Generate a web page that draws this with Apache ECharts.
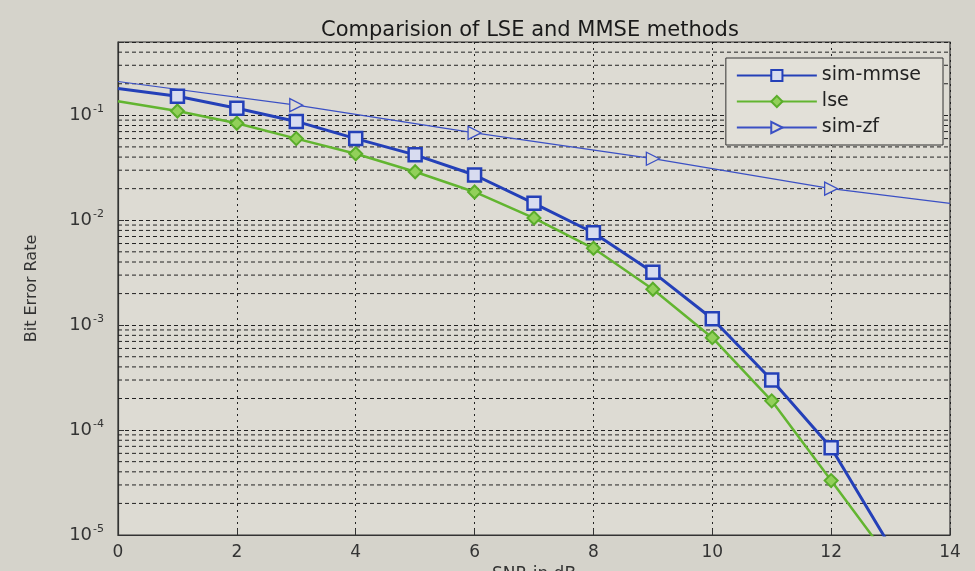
<!DOCTYPE html>
<html>
<head>
<meta charset="utf-8">
<title>Comparision of LSE and MMSE methods</title>
<script src="https://cdn.jsdelivr.net/npm/echarts@6/dist/echarts.min.js"></script>
<style>
  html, body { margin: 0; padding: 0; background: #d5d3cb; }
  #main { width: 975px; height: 571px; }
</style>
</head>
<body>
<div id="main"></div>
<script>
// values (BER, log scale)
var snr = [0, 1, 2, 3, 4, 5, 6, 7, 8, 9, 10, 11, 12, 13];
var mmse = [0.18, 0.152, 0.117, 0.0875, 0.060, 0.042, 0.027, 0.0145, 0.0076, 0.0032, 0.00115, 0.0003, 0.000068, 0.0000077];
var lse = [0.136, 0.11, 0.084, 0.060, 0.043, 0.029, 0.0186, 0.0105, 0.0054, 0.0022, 0.00076, 0.00019, 0.000033, 0.0000057];
var zfSnr = [0, 3, 6, 9, 12, 14];
var zf = [0.21, 0.125, 0.068, 0.0386, 0.020, 0.0145];

/*点：端点不画标记*/
function pts(xs, ys, noMark) {
    return xs.map(function (x, i) {
        var item = { value: [x, ys[i]] };
        if (noMark.indexOf(x) >= 0) { item.symbol = 'none'; }
        return item;
    });
}

/*次网格线 2..9 x 10^k*/
var minor = [];
for (var k = -5; k <= -1; k++) {
    for (var m = 2; m <= 9; m++) {
        var v = m * Math.pow(10, k);
        if (v < 0.5) { minor.push([0, v]); }
    }
}

var font = 'DejaVu Sans, Liberation Sans, Arial, sans-serif';
var myChart = echarts.init(document.getElementById('main'));
var option = {
    backgroundColor: '#d5d3cb',
    animation: false,
    textStyle: { fontFamily: font },
    title: {
        text: 'Comparision of LSE and MMSE methods',
        left: 316,
        top: 15,
        textStyle: { fontSize: 21, fontWeight: 'normal', color: '#1a1a1a', fontFamily: font }
    },
    grid: {
        left: 118, right: 25, top: 42, bottom: 36,
        outerBoundsMode: 'none',
        show: true,
        backgroundColor: '#dddbd3',
        borderColor: '#333',
        borderWidth: 1.2
    },
    legend: {
        orient: 'vertical',
        right: 32,
        top: 58,
        data: ['sim-mmse', 'lse', 'sim-zf'],
        itemWidth: 80,
        itemHeight: 14,
        itemGap: 7,
        padding: [8, 22, 8, 10],
        backgroundColor: '#e2e0d8',
        borderColor: '#333',
        borderWidth: 1,
        textStyle: { fontSize: 19, color: '#222', fontFamily: font }
    },
    xAxis: {
        type: 'value',
        min: 0, max: 14, interval: 2,
        name: 'SNR in dB',
        nameLocation: 'middle',
        nameGap: 22,
        nameTextStyle: { fontSize: 17, color: '#333', fontFamily: font },
        axisLine: { show: true, lineStyle: { color: '#333', width: 1.2 } },
        axisTick: { show: true, inside: true, length: 6, lineStyle: { color: '#333' } },
        axisLabel: { fontSize: 17, color: '#333', margin: 9 },
        splitLine: { show: true, lineStyle: { type: [2, 4], color: '#222', width: 1 } }
    },
    yAxis: {
        type: 'log',
        logBase: 10,
        min: 1e-5, max: 0.5,
        name: 'Bit Error Rate',
        nameLocation: 'middle',
        nameGap: 78,
        nameTextStyle: { fontSize: 16, color: '#333', fontFamily: font },
        axisLine: { show: true, lineStyle: { color: '#333', width: 1.2 } },
        axisTick: { show: true, inside: true, length: 6, lineStyle: { color: '#333' } },
        axisLabel: {
            margin: 14,
            color: '#333',
            fontSize: 18,
            formatter: function (val) {
                var e = Math.log10(val);
                if (Math.abs(e - Math.round(e)) > 1e-6) { return ''; }
                return '10{sup|' + Math.round(e) + '}';
            },
            rich: {
                sup: { fontSize: 11, verticalAlign: 'top', padding: [0, 0, 12, 1], color: '#333' }
            }
        },
        splitLine: { show: true, lineStyle: { type: [4, 3], color: '#222', width: 1 } }
    },
    series: [{
        name: 'minor-grid',
        type: 'custom',
        silent: true,
        data: minor,
        encode: { x: 0, y: 1 },
        renderItem: function (params, api) {
            var y = api.value(1);
            var p1 = api.coord([0, y]);
            var p2 = api.coord([14, y]);
            return {
                type: 'line',
                shape: { x1: p1[0], y1: p1[1], x2: p2[0], y2: p2[1] },
                style: { stroke: '#222', lineWidth: 1, lineDash: [4, 3] },
                silent: true
            };
        },
        z: 1
    }, {
        name: 'sim-mmse',
        type: 'line',
        data: pts(snr, mmse, [0, 13]),
        clip: true,
        symbol: 'rect',
        symbolSize: 13,
        lineStyle: { color: '#2440b8', width: 3 },
        itemStyle: { color: '#d8dcf0', borderColor: '#2440b8', borderWidth: 2.5 },
        z: 4
    }, {
        name: 'lse',
        type: 'line',
        data: pts(snr, lse, [0, 13]),
        clip: true,
        symbol: 'diamond',
        symbolSize: 13,
        lineStyle: { color: '#62b530', width: 2.5 },
        itemStyle: { color: '#92d05a', borderColor: '#5aad2a', borderWidth: 2 },
        z: 3
    }, {
        name: 'sim-zf',
        type: 'line',
        data: pts(zfSnr, zf, [0, 14]),
        clip: true,
        symbol: 'triangle',
        symbolRotate: -90,
        symbolSize: 13,
        lineStyle: { color: '#3b50c4', width: 1.2 },
        itemStyle: { color: '#dddbd3', borderColor: '#3b50c4', borderWidth: 1.3 },
        z: 2
    }]
};
myChart.setOption(option);
</script>
</body>
</html>
